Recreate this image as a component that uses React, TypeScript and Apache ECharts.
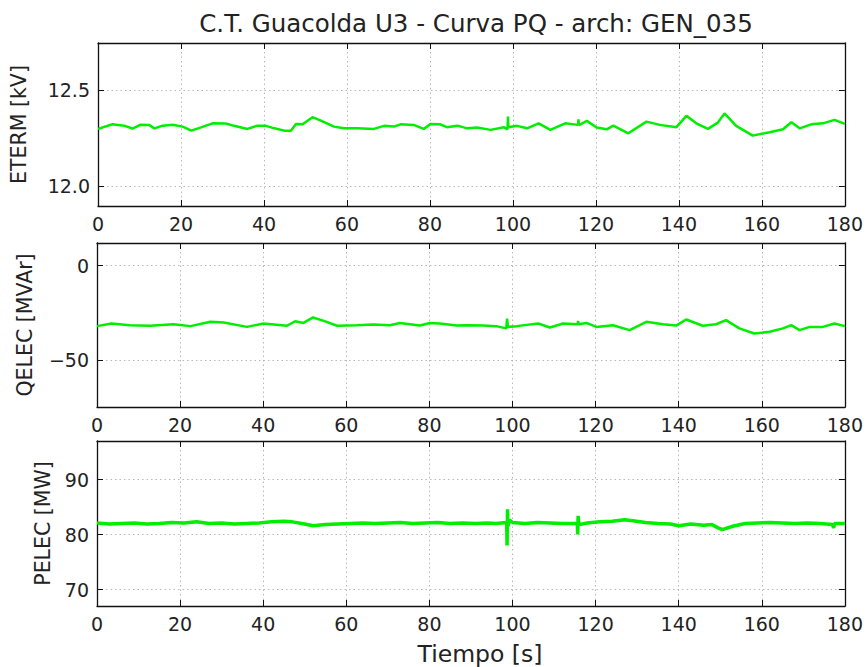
import React, { useEffect, useRef } from "react";
import * as echarts from "echarts";

const titleText = "C.T. Guacolda U3 - Curva PQ - arch: GEN_035";
const xTicks = [0, 20, 40, 60, 80, 100, 120, 140, 160, 180];

const etermT = [0, 3.5, 6.3, 8.3, 10.3, 12.3, 13.6, 15.6, 18, 20.4, 22.5, 25, 27.6, 30.8, 32.8, 36, 38.4, 40.5, 42.5, 44.9, 46.5, 47.7, 49.3, 51.7, 53.7, 56.9, 59.3, 62.5, 66.5, 68.9, 71.3, 72.9, 76.1, 78.5, 80.1, 82.5, 84.1, 86.6, 89, 91.4, 94.6, 97.8, 98.7, 98.8, 98.9, 101, 103.4, 106.2, 109, 112.6, 115.7, 115.8, 115.9, 117.8, 120.2, 122.6, 124.2, 127.8, 132.2, 135.4, 139.4, 141.8, 144.2, 147, 149.4, 151, 153.8, 157.8, 161.9, 165.1, 167.1, 169.1, 171.9, 174.7, 177.5, 180];
const etermV = [12.297, 12.321, 12.314, 12.299, 12.319, 12.318, 12.3, 12.314, 12.319, 12.309, 12.288, 12.306, 12.326, 12.325, 12.313, 12.297, 12.314, 12.313, 12.3, 12.288, 12.288, 12.323, 12.321, 12.358, 12.34, 12.309, 12.3, 12.3, 12.297, 12.313, 12.309, 12.321, 12.318, 12.297, 12.323, 12.321, 12.306, 12.314, 12.3, 12.304, 12.292, 12.306, 12.295, 12.361, 12.306, 12.313, 12.3, 12.326, 12.292, 12.326, 12.318, 12.347, 12.316, 12.339, 12.304, 12.295, 12.314, 12.274, 12.335, 12.318, 12.306, 12.365, 12.326, 12.297, 12.33, 12.378, 12.313, 12.262, 12.28, 12.295, 12.332, 12.3, 12.321, 12.326, 12.344, 12.323];

const qelecT = [0, 3.5, 7.9, 12.8, 18.4, 22.5, 27.3, 30.5, 36.1, 40.1, 45.7, 47.7, 49.7, 52, 54.6, 57.8, 62.5, 66.5, 70.5, 72.9, 77.7, 80.1, 82.5, 86.6, 88.9, 92.9, 96.1, 98.5, 98.7, 98.9, 101, 106.2, 109, 112.2, 115.7, 115.8, 115.9, 117.8, 120.2, 124.2, 128.2, 132.2, 136.2, 139.4, 141.8, 145.8, 149, 151.4, 154.6, 158.2, 161.9, 165.1, 167.1, 169.1, 171.5, 174.7, 177.5, 180];
const qelecV = [-32.1, -30.7, -31.6, -31.9, -31.1, -32.1, -29.8, -30.2, -32.5, -30.7, -31.9, -29.5, -30.4, -27.5, -29.3, -31.9, -31.6, -31.2, -31.6, -30.4, -31.8, -30.4, -30.7, -31.8, -31.6, -31.8, -32.1, -33.3, -28.1, -32.5, -32.1, -30.7, -32.8, -30.7, -31.1, -29.3, -31.1, -30.4, -32.5, -31.6, -34.2, -29.8, -31.1, -31.8, -28.6, -31.9, -31.1, -28.9, -33.3, -36.0, -35.1, -33.3, -31.6, -34.2, -32.5, -32.5, -30.7, -32.1];

const pelecT = [0, 3, 6, 9, 12, 15, 18, 21, 24, 27, 30, 33, 36, 39, 42, 45, 47, 50, 52, 55, 58, 61, 64, 67, 70, 73, 76, 79, 82, 85, 88, 91, 94, 96, 98.6, 98.7, 98.8, 98.9, 99.3, 100, 103, 106, 109, 112, 115.6, 115.7, 115.8, 116, 118, 121, 124, 127, 129, 132, 135, 138, 140, 143, 146, 148, 149.5, 150.5, 153, 156, 159, 162, 165, 168, 171, 174, 177, 177.3, 177.5, 180];
const pelecV = [82.1, 81.9, 82.0, 82.1, 81.9, 82.0, 82.2, 82.1, 82.3, 82.0, 82.1, 81.9, 82.0, 82.1, 82.3, 82.4, 82.3, 81.9, 81.6, 81.8, 81.9, 82.0, 82.1, 82.0, 82.1, 82.2, 82.0, 82.1, 82.2, 82.0, 82.1, 82.0, 82.1, 82.0, 82.2, 78.0, 84.6, 81.5, 82.6, 82.2, 82.0, 82.2, 82.1, 82.0, 82.0, 80.0, 83.4, 81.8, 82.1, 82.3, 82.4, 82.7, 82.5, 82.2, 82.0, 81.9, 81.6, 81.9, 81.7, 81.8, 81.2, 80.9, 81.5, 82.0, 82.1, 82.2, 82.1, 82.0, 82.1, 82.0, 81.8, 81.2, 82.0, 82.0];

const panelNames = ["ETERM [kV]", "QELEC [MVAr]", "PELEC [MW]"];
const xName = "Tiempo [s]";
const yTicks = [[12.0, 12.5], [-50, 0], [70, 80, 90]];
const yMins = [11.895, -75, 67];
const yMaxs = [12.745, 12, 97];

const FONT = "DejaVu Sans";

export default function App() {
  const ref = useRef<HTMLDivElement>(null);
  useEffect(() => {
    if (!ref.current) return;
    const chart = echarts.init(ref.current, null, { renderer: "svg" });
    const grids = [
      { left: 97, right: 21, top: 43, height: 163 },
      { left: 97, right: 21, top: 243, height: 164 },
      { left: 97, right: 21, top: 441, height: 166 },
    ];
    const axisLine = { show: true, onZero: false, lineStyle: { color: "#111", width: 1.3 } };
    const tickStyle = { color: "#111", width: 1 };
    const gridLine = { show: true, lineStyle: { color: "#b8b8b8", type: [1.5, 3], width: 1 } };
    const fmtY = (i: number) => (v: number) => {
      const s = i === 0 ? v.toFixed(1) : String(v);
      return s.replace("-", "\u2212");
    };
    const xAxes: any[] = [];
    const yAxes: any[] = [];
    for (let i = 0; i < 3; i++) {
      xAxes.push({
        type: "value", gridIndex: i, min: xTicks[0], max: xTicks[xTicks.length - 1], interval: 20, position: "bottom",
        axisLine, axisTick: { inside: true, length: 6, lineStyle: tickStyle },
        axisLabel: { color: "#222", fontFamily: FONT, fontSize: 19, margin: 8 },
        splitLine: gridLine,
        name: i === 2 ? xName : "", nameLocation: "middle", nameGap: 36,
        nameTextStyle: { color: "#222", fontFamily: FONT, fontSize: 23.5, padding: [0, 0, 0, 18] },
      });
      yAxes.push({
        type: "value", gridIndex: i, min: yMins[i], max: yMaxs[i], position: "left",
        axisLine, axisTick: { inside: true, length: 6, customValues: yTicks[i], lineStyle: tickStyle },
        axisLabel: { customValues: yTicks[i], formatter: fmtY(i), color: "#222", fontFamily: FONT, fontSize: 19, margin: 8 },
        splitLine: gridLine,
        name: panelNames[i], nameLocation: "middle", nameGap: [69, 62, 44][i],
        nameTextStyle: { color: "#222", fontFamily: FONT, fontSize: 20.5 },
      });
    }
    for (let i = 0; i < 3; i++) {
      xAxes.push({
        type: "value", gridIndex: i, min: xTicks[0], max: xTicks[xTicks.length - 1], interval: 20, position: "top",
        axisLine, axisTick: { inside: true, length: 6, lineStyle: tickStyle },
        axisLabel: { show: false }, splitLine: { show: false },
      });
      yAxes.push({
        type: "value", gridIndex: i, min: yMins[i], max: yMaxs[i], position: "right",
        axisLine, axisTick: { inside: true, length: 6, customValues: yTicks[i], lineStyle: tickStyle },
        axisLabel: { show: false, customValues: yTicks[i] }, splitLine: { show: false },
      });
    }
    const mk = (t: number[], v: number[]) => t.map((x, k) => [x, v[k]]);
    const datas = [mk(etermT, etermV), mk(qelecT, qelecV), mk(pelecT, pelecV)];
    chart.setOption({
      animation: false,
      backgroundColor: "#fff",
      title: {
        text: titleText, left: 471, top: 6, textAlign: "center",
        textStyle: { fontFamily: FONT, fontSize: 24.5, fontWeight: "normal", color: "#222" },
      },
      grid: grids,
      xAxis: xAxes,
      yAxis: yAxes,
      series: datas.map((d, i) => ({
        type: "line", xAxisIndex: i, yAxisIndex: i, data: d, showSymbol: false,
        lineStyle: { color: "#00ee00", width: i === 2 ? 3.5 : 2.5 }, clip: true,
      })),
    });
    return () => chart.dispose();
  }, []);
  return <div ref={ref} style={{ position: "fixed", left: 0, top: 0, width: 866, height: 667 }} />;
}
